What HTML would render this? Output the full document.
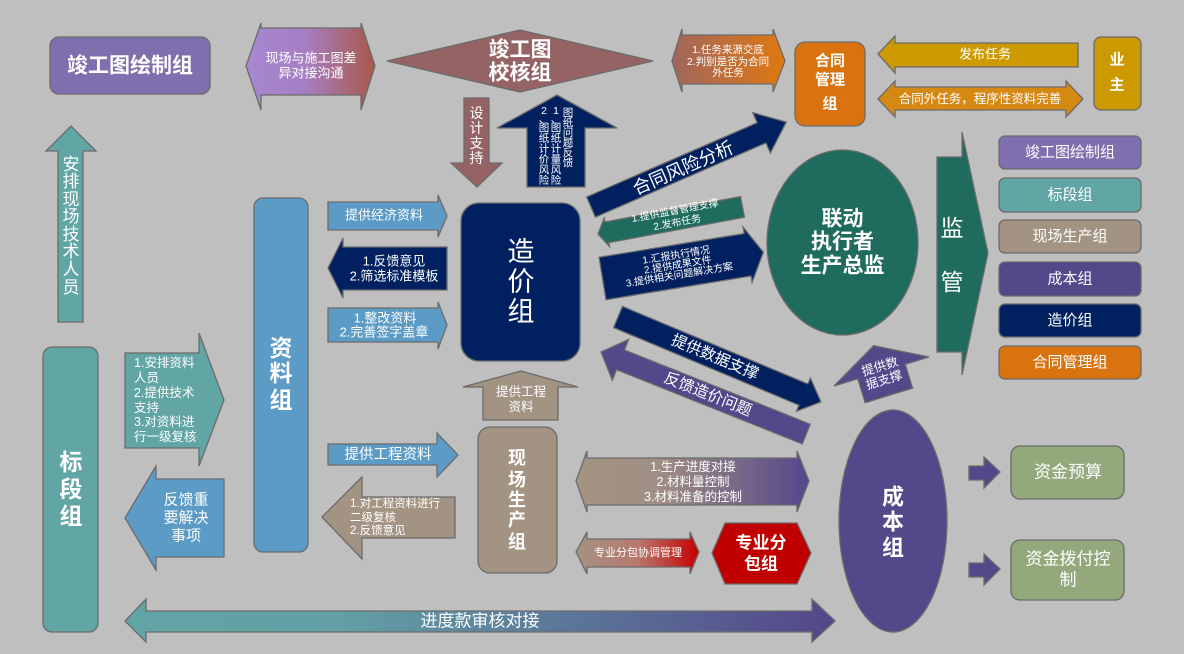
<!DOCTYPE html>
<html><head><meta charset="utf-8">
<style>
html,body{margin:0;padding:0;background:#bfbfbf;}
svg{display:block}
text{font-family:"Liberation Sans","Noto Sans CJK SC",sans-serif;fill:#fff;text-anchor:middle;dominant-baseline:central;}
.b{font-weight:bold}
.l{text-anchor:start}
</style></head><body>
<svg width="1184" height="654" viewBox="0 0 1184 654" xmlns="http://www.w3.org/2000/svg">
<defs>
<linearGradient id="g1" x1="0" y1="0" x2="1" y2="0"><stop offset="0" stop-color="#a688d3"/><stop offset="0.45" stop-color="#a67fc4"/><stop offset="1" stop-color="#a9574a"/></linearGradient>
<linearGradient id="g2" x1="0" y1="0" x2="1" y2="0"><stop offset="0" stop-color="#a0665e"/><stop offset="1" stop-color="#e0780f"/></linearGradient>
<linearGradient id="g3" x1="0" y1="0" x2="1" y2="0"><stop offset="0" stop-color="#a39382"/><stop offset="0.35" stop-color="#a08f84"/><stop offset="1" stop-color="#54478a"/></linearGradient>
<linearGradient id="g4" x1="0" y1="0" x2="1" y2="0"><stop offset="0" stop-color="#a39382"/><stop offset="0.5" stop-color="#b9786f"/><stop offset="1" stop-color="#c40000"/></linearGradient>
<linearGradient id="g5" x1="0" y1="0" x2="1" y2="0"><stop offset="0" stop-color="#62a5a5"/><stop offset="0.3" stop-color="#62a0a5"/><stop offset="1" stop-color="#54468a"/></linearGradient>
</defs>
<rect width="1184" height="654" fill="#bfbfbf"/>

<g stroke="#6b6b6b" stroke-width="1.3">
<!-- top-left box -->
<rect x="50" y="37" width="160" height="57" rx="9" fill="#7f6fae"/>
<!-- double arrow purple-brown -->
<polygon points="246,66 261,23 261,28 361,28 361,23 375,66 361,110 361,95 261,95 261,110" fill="url(#g1)"/>
<!-- diamond -->
<polygon points="387,61 520,30 653,61 520,92" fill="#956363"/>
<!-- 设计支持 down arrow -->
<polygon points="464,98 489,98 489,163 502,163 477,187 451,163 464,163" fill="#956363"/>
<!-- navy up arrow -->
<polygon points="557,95 617,128 585,128 585,187 527,187 527,128 497,128" fill="#002060"/>
<!-- 任务来源 double arrow -->
<polygon points="672,61 682,29 682,35 773,35 773,29 785,61 773,92 773,84 682,84 682,92" fill="url(#g2)"/>
<!-- 合同管理组 -->
<rect x="795" y="42" width="70" height="84" rx="10" fill="#d9730f"/>
<!-- 发布任务 -->
<polygon points="878,54 895,36 895,43 1078,43 1078,67 895,67 895,73" fill="#cc9900"/>
<!-- 合同外任务 -->
<polygon points="878,99 895,81 895,87 1066,87 1066,81 1083,99 1066,117 1066,110 895,110 895,117" fill="#d68912"/>
<!-- 业主 -->
<rect x="1094" y="37" width="47" height="73" rx="7" fill="#cc9900"/>

<!-- 合同风险分析 -->
<polygon transform="translate(591,207) rotate(-23.5)" points="0,-11 186,-11 186,-22 213,0 186,22 186,11 0,11" fill="#002060"/>
<!-- green arrow -->
<polygon transform="translate(598,234) rotate(-10.6)" points="0,0 9,-14.5 9,-10.5 147,-10.5 147,10.5 9,10.5 9,14.5" fill="#1f6b5d"/>
<!-- navy report arrow -->
<polygon transform="translate(602.5,278.5) rotate(-9.3)" points="0,-21.5 147,-21.5 147,-28 163,0 147,28 147,21.5 0,21.5" fill="#002060"/>
<!-- ellipse -->
<ellipse cx="842.5" cy="242.5" rx="75.5" ry="92.5" fill="#1f6b5d"/>
<!-- 监管 -->
<polygon points="937,157 962,157 962,132 988,253 962,375 962,352 937,352" fill="#1f6b5d"/>
<!-- right column -->
<rect x="999" y="136" width="142" height="33" rx="6" fill="#7f6fae"/>
<rect x="999" y="178" width="142" height="34" rx="6" fill="#62a5a5"/>
<rect x="999" y="220" width="142" height="33" rx="6" fill="#a39382"/>
<rect x="999" y="262" width="142" height="34" rx="6" fill="#54478a"/>
<rect x="999" y="304" width="142" height="33" rx="6" fill="#002060"/>
<rect x="999" y="346" width="142" height="33" rx="6" fill="#d9730f"/>

<!-- 造价组 -->
<rect x="461" y="203" width="119" height="158" rx="18" fill="#002060"/>
<polygon points="328,202 438,202 438,195 447,216 438,237 438,230 328,230" fill="#5b9bc6"/>
<polygon points="328,268 343,238 343,247 447,247 447,290 343,290 343,298" fill="#002060"/>
<polygon points="328,308 438,308 438,302 447,325 438,349 438,342 328,342" fill="#5b9bc6"/>
<polygon points="521,371 578,387 558,387 558,420 483,420 483,387 463,387" fill="#a39382"/>

<!-- 资料组 -->
<rect x="254" y="198" width="54" height="354" rx="9" fill="#5b9bc6"/>
<!-- 标段组 -->
<rect x="43" y="347" width="55" height="285" rx="9" fill="#62a5a5"/>
<polygon points="71,126 96,151 83,151 83,322 58,322 58,151 46,151" fill="#62a5a5"/>
<polygon points="125,353 199,353 199,333 224,400 199,466 199,448 125,448" fill="#62a5a5"/>
<polygon points="125,518 156,466 156,479 224,479 224,557 156,557 156,570" fill="#5b9bc6"/>
<polygon points="125,621 146,599 146,611 812,611 812,599 835,621 812,642 812,632 146,632 146,642" fill="url(#g5)"/>

<polygon points="328,444 437,444 437,433 458,455 437,477 437,465 328,465" fill="#5b9bc6"/>
<polygon points="322,517 362,477 362,497 455,497 455,538 362,538 362,559" fill="#a39382"/>
<rect x="478" y="427" width="79" height="146" rx="12" fill="#a39382"/>
<polygon points="576,481 587,451 587,458 797,458 797,451 809,481 797,512 797,505 587,505 587,512" fill="url(#g3)"/>
<polygon points="576,552 587,532 587,539 690,539 690,532 699,552 690,574 690,567 587,567 587,574" fill="url(#g4)"/>
<polygon points="712,553 725,523 797,523 811,553 797,584 725,584" fill="#c00000"/>

<polygon transform="translate(618,317) rotate(22.7)" points="0,-11.5 201,-11.5 201,-18 220,0 201,18 201,11.5 0,11.5" fill="#002060"/>
<polygon transform="translate(601,352) rotate(21.8)" points="0,0 21,-22 21,-10.6 221,-10.6 221,10.6 21,10.6 21,22" fill="#54478a"/>
<polygon transform="translate(881.5,371.5) rotate(-17)" points="0,-27 49.7,0 24.8,0 24.8,25 -24.8,25 -24.8,0 -49.7,0" fill="#54478a"/>

<ellipse cx="893" cy="521" rx="54" ry="111" fill="#54478a"/>
<polygon points="969,466 984,466 984,457 1000,472 984,488 984,480 969,480" fill="#54478a"/>
<polygon points="969,563 984,563 984,554 1000,569 984,585 984,577 969,577" fill="#54478a"/>
<rect x="1011" y="446" width="113" height="53" rx="9" fill="#93a97c"/>
<rect x="1011" y="540" width="113" height="60" rx="9" fill="#93a97c"/>
</g>

<!-- TEXT -->
<text x="130" y="66" class="b" font-size="21">竣工图绘制组</text>
<text x="311" y="58" font-size="13">现场与施工图差</text>
<text x="311" y="73" font-size="13">异对接沟通</text>
<text x="520" y="50" class="b" font-size="21">竣工图</text>
<text x="520" y="73" class="b" font-size="21">校核组</text>
<text font-size="14"><tspan x="476.5" y="113">设</tspan><tspan x="476.5" y="128">计</tspan><tspan x="476.5" y="143">支</tspan><tspan x="476.5" y="158">持</tspan></text>

<text font-size="10.5"><tspan x="568" y="113">图</tspan><tspan x="568" y="123">纸</tspan><tspan x="568" y="133">问</tspan><tspan x="568" y="143">题</tspan><tspan x="568" y="153">反</tspan><tspan x="568" y="163">馈</tspan></text>
<text font-size="10.5"><tspan x="556" y="111">1</tspan><tspan x="556" y="119">、</tspan><tspan x="556" y="128">图</tspan><tspan x="556" y="138.5">纸</tspan><tspan x="556" y="149">计</tspan><tspan x="556" y="159.5">量</tspan><tspan x="556" y="170">风</tspan><tspan x="556" y="180.5">险</tspan></text>
<text font-size="10.5"><tspan x="544" y="111">2</tspan><tspan x="544" y="119">、</tspan><tspan x="544" y="128">图</tspan><tspan x="544" y="138.5">纸</tspan><tspan x="544" y="149">计</tspan><tspan x="544" y="159.5">价</tspan><tspan x="544" y="170">风</tspan><tspan x="544" y="180.5">险</tspan></text>

<text x="728" y="50" font-size="10.5">1.任务来源交底</text>
<text x="728" y="62" font-size="10.5">2.判别是否为合同</text>
<text x="728" y="73" font-size="10.5">外任务</text>

<text x="830" y="61" class="b" font-size="15">合同</text>
<text x="830" y="80" class="b" font-size="15">管理</text>
<text x="830" y="104" class="b" font-size="15">组</text>
<text x="985" y="54" font-size="13">发布任务</text>
<text x="980" y="99" font-size="12.5">合同外任务，程序性资料完善</text>
<text x="1117" y="60" class="b" font-size="15">业</text>
<text x="1117" y="85" class="b" font-size="15">主</text>

<g transform="translate(591,207) rotate(-23.5)"><text x="100" y="1" font-size="18">合同风险分析</text></g>
<g transform="translate(598,234) rotate(-10.6)"><text x="80" y="-8" font-size="10">1.提供监督管理支撑</text><text x="80" y="4" font-size="10">2.发布任务</text></g>
<g transform="translate(602.5,278.5) rotate(-9.3)"><text x="76.5" y="-10.5" font-size="10">1.汇报执行情况</text><text x="76.5" y="-0.5" font-size="10">2.提供成果文件</text><text x="76.5" y="9.5" font-size="10">3.提供相关问题解决方案</text></g>

<text x="842.5" y="219" class="b" font-size="21">联动</text>
<text x="842.5" y="242" class="b" font-size="21">执行者</text>
<text x="842.5" y="266" class="b" font-size="21">生产总监</text>
<text x="952" y="228" font-size="23">监</text>
<text x="952" y="282" font-size="23">管</text>

<text x="1070" y="152.5" font-size="15">竣工图绘制组</text>
<text x="1070" y="195" font-size="15">标段组</text>
<text x="1070" y="236.5" font-size="15">现场生产组</text>
<text x="1070" y="279" font-size="15">成本组</text>
<text x="1070" y="320.5" font-size="15">造价组</text>
<text x="1070" y="362.5" font-size="15">合同管理组</text>

<text x="521" y="252" font-size="27">造</text>
<text x="521" y="282" font-size="27">价</text>
<text x="521" y="312" font-size="27">组</text>
<text x="384" y="215" font-size="13">提供经济资料</text>
<text x="394" y="261" font-size="13">1.反馈意见</text>
<text x="394" y="276" font-size="13">2.筛选标准模板</text>
<text x="385" y="318" font-size="13">1.整改资料</text>
<text x="384" y="332" font-size="13">2.完善签字盖章</text>
<text x="521" y="392" font-size="12.5">提供工程</text>
<text x="521" y="407" font-size="12.5">资料</text>

<text x="281" y="348" class="b" font-size="23">资</text>
<text x="281" y="373" class="b" font-size="23">料</text>
<text x="281" y="400" class="b" font-size="23">组</text>
<text x="71" y="462" class="b" font-size="23">标</text>
<text x="71" y="489" class="b" font-size="23">段</text>
<text x="71" y="516" class="b" font-size="23">组</text>

<text font-size="17"><tspan x="71" y="164">安</tspan><tspan x="71" y="181">排</tspan><tspan x="71" y="199">现</tspan><tspan x="71" y="216">场</tspan><tspan x="71" y="234">技</tspan><tspan x="71" y="251">术</tspan><tspan x="71" y="269">人</tspan><tspan x="71" y="287">员</tspan></text>

<text class="l" x="134" y="363" font-size="12.5">1.安排资料</text>
<text class="l" x="134" y="378" font-size="12.5">人员</text>
<text class="l" x="134" y="393" font-size="12.5">2.提供技术</text>
<text class="l" x="134" y="408" font-size="12.5">支持</text>
<text class="l" x="134" y="422" font-size="12.5">3.对资料进</text>
<text class="l" x="134" y="437" font-size="12.5">行一级复核</text>

<text x="186" y="500" font-size="15">反馈重</text>
<text x="186" y="518" font-size="15">要解决</text>
<text x="186" y="536" font-size="15">事项</text>

<text x="480" y="621" font-size="17">进度款审核对接</text>
<text x="388" y="455" font-size="14.5">提供工程资料</text>
<text class="l" x="350" y="504" font-size="11.5">1.对工程资料进行</text>
<text class="l" x="350" y="518" font-size="11.5">二级复核</text>
<text class="l" x="350" y="531" font-size="11.5">2.反馈意见</text>

<text font-size="18" class="b"><tspan x="517" y="458">现</tspan><tspan x="517" y="480">场</tspan><tspan x="517" y="500">生</tspan><tspan x="517" y="520">产</tspan><tspan x="517" y="542">组</tspan></text>

<text x="693" y="467" font-size="12.5">1.生产进度对接</text>
<text x="693" y="482" font-size="12.5">2.材料量控制</text>
<text x="693" y="497" font-size="12.5">3.材料准备的控制</text>
<text x="638" y="553" font-size="11">专业分包协调管理</text>
<text x="761" y="543" class="b" font-size="17">专业分</text>
<text x="761" y="564" class="b" font-size="17">包组</text>

<g transform="translate(618,317) rotate(22.7)"><text x="105" y="0" font-size="15.5">提供数据支撑</text></g>
<g transform="translate(601,352) rotate(21.8)"><text x="115" y="0" font-size="15.5">反馈造价问题</text></g>
<g transform="translate(881.5,371.5) rotate(-17)"><text x="0" y="-5" font-size="12.5">提供数</text><text x="0" y="9" font-size="12.5">据支撑</text></g>

<text x="893" y="497" class="b" font-size="22">成</text>
<text x="893" y="522" class="b" font-size="22">本</text>
<text x="893" y="548" class="b" font-size="22">组</text>
<text x="1068" y="472" font-size="17">资金预算</text>
<text x="1068" y="559" font-size="17">资金拨付控</text>
<text x="1068" y="580" font-size="17">制</text>
</svg>
</body></html>
